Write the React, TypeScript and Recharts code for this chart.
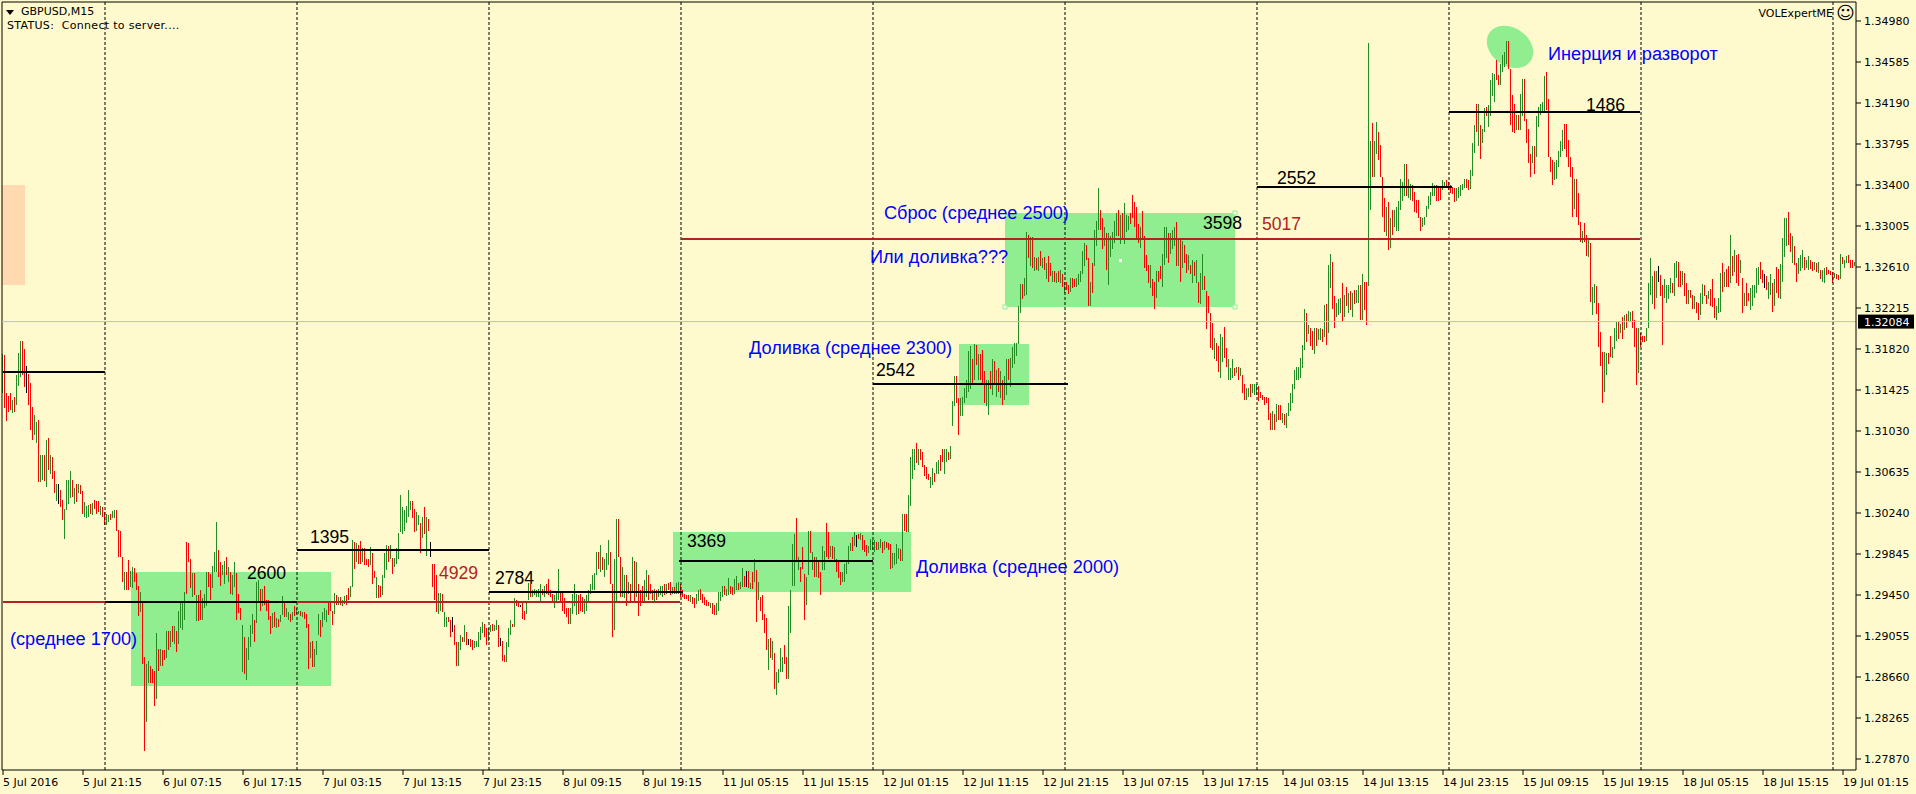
import React from "react";
import { ComposedChart, Bar, XAxis, YAxis, ReferenceLine, ReferenceArea, ReferenceDot } from "recharts";

type Row = [number, number, number]; // high, low (pips above 1.2700), trend

const barsJul05: Row[] = [[477,440,1],[476,425,-1],[440,413,-1],[437,421,-1],[440,423,-1],[433,420,1],[436,421,-1],[457,428,1],[478,446,1],[490,455,1],[490,457,-1],[482,445,-1],[466,440,0],[458,428,-1],[449,404,-1],[426,394,-1],[418,399,1],[412,391,1],[414,354,-1],[380,354,1],[380,356,1],[380,355,-1],[394,349,1],[396,365,-1],[380,362,1],[378,357,-1],[364,343,-1],[352,336,1],[352,333,0],[346,330,-1],[337,317,-1],[328,299,1],[356,327,1],[356,333,1],[364,338,1],[356,339,-1],[348,333,1],[352,335,-1],[352,343,1],[351,342,-1],[345,323,-1],[335,320,1],[331,319,1],[332,320,1],[333,323,-1],[334,322,1],[337,328,-1],[336,323,-1],[336,325,-1],[331,322,1],[330,320,-1]];
const barsJul06: Row[] = [[325,312,-1],[323,312,1],[322,315,1],[323,317,-1],[326,319,1],[327,319,1],[327,307,-1],[308,282,-1],[307,282,-1],[282,258,-1],[267,250,1],[267,250,-1],[279,250,-1],[268,253,1],[272,252,1],[271,258,-1],[266,250,-1],[254,225,-1],[248,229,1],[238,179,-1],[185,95,-1],[179,123,1],[181,160,1],[177,160,-1],[174,160,-1],[172,138,-1],[208,145,1],[193,172,-1],[193,177,1],[192,177,-1],[192,182,-1],[210,184,1],[210,192,-1],[210,195,1],[215,200,-1],[215,198,1],[210,190,-1],[230,198,1],[238,213,1],[238,211,1],[248,221,1],[296,246,-1],[295,277,-1],[280,252,-1],[266,243,1],[266,245,-1],[245,220,1],[245,220,-1],[250,221,-1],[242,221,1],[246,232,1],[267,234,1],[267,253,-1],[265,240,-1],[273,252,1],[286,267,1],[315,267,1],[288,262,-1],[277,254,-1],[274,264,1],[278,256,1],[282,264,-1],[272,258,1],[267,246,-1],[264,245,1],[277,253,1],[266,221,-1],[246,228,-1],[232,221,-1],[216,171,1],[205,169,-1],[194,163,1],[205,182,1],[216,195,1],[227,207,1],[221,200,-1],[258,218,1],[259,237,1],[251,230,-1],[251,234,1],[254,235,-1],[240,230,-1],[240,221,-1],[225,207,-1],[228,213,1],[229,214,-1],[223,213,1],[222,214,-1],[226,219,1],[244,226,1],[238,224,-1],[232,224,1],[229,221,1],[227,219,-1],[229,221,1],[234,225,-1]];
const barsJul07: Row[] = [[232,227,1],[230,227,1],[230,225,-1],[229,224,1],[229,222,-1],[227,213,-1],[217,174,-1],[200,184,1],[201,176,-1],[193,176,1],[201,187,1],[227,206,1],[221,205,-1],[229,214,1],[232,221,1],[231,219,1],[238,226,-1],[238,230,-1],[230,216,-1],[247,227,1],[245,235,-1],[243,235,1],[243,235,-1],[240,234,1],[244,236,1],[245,235,-1],[252,240,-1],[254,243,1],[298,253,1],[296,270,-1],[295,277,1],[293,275,-1],[297,275,-1],[290,277,1],[290,274,-1],[280,274,-1],[280,272,-1],[291,274,1],[285,256,-1],[268,261,-1],[262,242,1],[255,242,-1],[254,243,-1],[264,245,1],[285,261,1],[293,269,1],[292,277,-1],[293,280,1],[281,265,-1],[281,272,1],[290,275,1],[305,280,1],[341,306,1],[330,304,1],[327,307,1],[331,314,1],[346,320,1],[336,327,1],[336,319,-1],[328,306,-1],[325,307,1],[322,312,1],[314,285,-1],[320,300,1],[330,304,-1],[320,283,1],[318,307,-1],[296,282,0],[275,253,-1],[275,240,-1],[264,229,-1],[247,227,1],[247,230,1],[246,229,-1],[229,214,1],[224,214,1],[224,219,-1],[221,205,-1],[224,209,0],[216,197,-1],[200,177,-1],[200,177,1],[206,192,1],[205,200,-1],[216,200,1],[209,197,-1],[203,197,0],[203,195,-1],[202,192,-1],[201,194,1],[201,195,1],[209,195,1],[214,202,1],[219,208,1],[217,205,-1],[213,197,-1]];
const barsJul08: Row[] = [[213,201,1],[216,209,1],[217,210,-1],[216,210,1],[221,211,1],[216,195,-1],[204,196,0],[201,181,-1],[187,180,-1],[200,180,1],[213,195,1],[221,206,1],[217,214,-1],[242,214,1],[240,234,-1],[237,233,-1],[235,233,0],[238,222,-1],[230,221,-1],[238,227,1],[257,240,1],[256,243,-1],[250,243,1],[251,245,1],[250,243,1],[251,243,1],[256,237,1],[251,245,-1],[254,243,1],[256,246,-1],[260,245,-1],[250,243,-1],[246,239,-1],[245,232,1],[248,238,1],[270,240,1],[248,238,-1],[248,230,-1],[242,227,-1],[232,224,-1],[232,217,-1],[232,217,1],[246,227,1],[256,234,1],[246,226,1],[245,227,-1],[246,230,-1],[243,229,-1],[241,227,1],[245,230,1],[250,237,1],[256,246,1],[264,250,1],[266,250,1],[286,264,1],[286,270,-1],[293,267,1],[282,269,-1],[280,262,1],[285,269,1],[298,274,1],[286,256,-1],[256,205,-1],[280,211,1],[318,238,1],[318,282,-1],[282,243,-1],[272,243,1],[264,242,1],[264,234,-1],[258,246,1],[256,238,-1],[282,248,1],[278,238,-1],[277,243,1],[256,225,-1],[250,234,-1],[254,238,-1],[259,238,1],[269,243,1],[264,240,-1],[256,246,-1],[250,240,-1],[251,237,1],[250,240,-1],[251,243,1],[254,245,1],[254,243,1],[256,245,-1],[256,246,1],[257,250,-1],[258,245,-1],[253,246,1],[253,246,-1],[257,246,1],[258,246,1]];
const barsJul11: Row[] = [[256,243,-1],[250,243,-1],[246,241,-1],[245,241,-1],[245,239,-1],[245,238,1],[243,236,-1],[242,232,-1],[246,236,1],[250,239,1],[251,240,-1],[246,237,-1],[243,235,-1],[240,234,-1],[238,234,-1],[237,232,1],[237,227,-1],[235,226,-1],[237,226,1],[248,230,1],[248,239,1],[254,243,1],[254,245,-1],[251,244,1],[261,245,1],[254,246,-1],[253,245,-1],[260,246,1],[263,250,1],[257,250,-1],[258,251,1],[271,253,1],[263,253,-1],[268,253,0],[268,252,-1],[257,251,1],[267,251,-1],[280,258,1],[269,219,-1],[258,240,1],[243,230,-1],[245,221,-1],[227,208,-1],[223,192,-1],[203,173,1],[204,184,-1],[201,182,1],[189,154,-1],[171,149,1],[174,160,1],[194,171,1],[185,171,1],[197,179,-1],[185,164,-1],[234,164,1],[250,208,1],[294,254,1],[304,254,1],[319,277,-1],[282,269,1],[272,258,-1],[291,270,-1],[265,221,-1],[262,235,1],[307,264,1],[307,285,-1],[286,269,1],[282,262,-1],[282,262,1],[278,261,-1],[267,245,-1],[292,269,1],[287,269,1],[314,282,-1],[306,280,-1],[292,282,1],[292,280,-1],[291,278,1],[280,267,-1],[278,261,-1],[267,255,-1],[267,258,1],[275,258,1],[277,265,1],[292,275,1],[295,287,1],[301,287,-1],[306,292,1],[303,291,0],[304,299,-1],[305,298,1],[303,288,-1],[298,286,-1],[293,283,-1],[292,285,1],[299,288,1]];
const barsJul12: Row[] = [[298,288,1],[298,286,1],[296,288,-1],[296,288,1],[299,290,1],[296,285,-1],[297,288,1],[296,290,-1],[295,288,-1],[294,270,-1],[285,271,1],[285,274,1],[294,275,1],[290,280,1],[289,278,-1],[323,278,1],[323,307,-1],[323,306,-1],[341,306,1],[378,331,1],[386,357,1],[386,365,1],[391,372,-1],[386,370,1],[386,375,-1],[383,368,-1],[370,360,-1],[368,357,-1],[362,356,-1],[359,348,1],[367,351,1],[363,354,-1],[373,362,1],[375,362,1],[380,364,-1],[386,373,-1],[386,362,1],[386,373,1],[383,375,-1],[389,376,1],[432,408,1],[456,427,1],[456,430,-1],[435,399,-1],[435,417,1],[436,417,1],[444,430,1],[452,435,1],[480,441,1],[485,443,1],[472,448,-1],[487,452,1],[486,467,-1],[477,452,1],[477,452,-1],[481,448,-1],[461,430,-1],[452,427,1],[452,418,1],[461,443,-1],[472,438,1],[470,448,-1],[462,436,1],[464,441,-1],[461,435,1],[452,428,-1],[456,433,1],[472,438,1],[472,452,-1],[473,445,1],[484,464,1],[488,468,1],[488,475,1],[523,487,1],[545,517,1],[545,530,-1],[550,533,1],[595,534,1],[592,570,-1],[590,562,1],[590,560,-1],[571,557,1],[570,558,-1],[571,557,1],[576,562,-1],[570,560,1],[571,558,-1],[565,549,1],[572,547,-1],[565,552,-1],[557,547,1],[557,547,-1],[555,546,1],[557,547,-1],[558,546,1],[554,542,-1]];
const barsJul13: Row[] = [[547,536,1],[547,539,-1],[544,535,-1],[550,537,1],[550,541,-1],[549,542,-1],[550,542,1],[554,544,1],[557,547,1],[576,554,1],[584,562,1],[582,568,-1],[570,523,-1],[547,523,1],[565,536,-1],[597,562,1],[605,581,1],[637,597,1],[616,597,-1],[608,578,-1],[600,581,1],[594,558,-1],[594,544,1],[591,571,1],[595,578,1],[605,584,1],[613,591,1],[616,591,-1],[611,583,1],[613,587,-1],[623,583,1],[611,595,1],[610,597,1],[613,602,-1],[630,608,-1],[624,600,-1],[619,589,-1],[602,584,-1],[600,579,1],[615,587,-1],[591,560,-1],[573,557,-1],[563,546,-1],[563,541,1],[549,533,-1],[547,521,-1],[557,531,1],[557,547,-1],[562,549,-1],[574,542,1],[600,563,1],[600,570,1],[594,565,-1],[594,574,1],[597,578,1],[600,581,1],[604,562,-1],[589,562,1],[587,547,-1],[586,560,1],[582,565,-1],[574,555,-1],[573,558,1],[563,554,-1],[568,546,1],[566,552,-1],[568,546,1],[547,526,-1],[555,525,1],[574,539,1],[552,539,-1],[538,501,-1],[533,517,-1],[517,483,-1],[507,481,-1],[493,472,1],[488,470,-1],[485,460,-1],[496,454,1],[494,469,1],[503,473,-1],[483,465,-1],[472,452,1],[464,452,1],[472,454,1],[464,456,-1],[465,459,1],[465,452,-1],[464,456,1],[457,440,-1],[448,433,-1],[444,433,1],[444,436,1],[448,436,-1],[448,440,1],[448,438,1]];
const barsJul14: Row[] = [[448,438,1],[446,432,-1],[441,435,-1],[438,433,-1],[436,428,-1],[436,430,-1],[435,414,-1],[420,404,-1],[422,404,1],[419,404,-1],[429,412,1],[428,414,-1],[428,414,-1],[420,411,1],[419,409,-1],[420,406,1],[430,417,1],[440,422,1],[448,430,1],[462,443,1],[465,452,1],[465,452,1],[473,454,1],[486,464,1],[521,481,1],[517,489,-1],[505,496,1],[502,485,-1],[499,481,-1],[502,477,1],[502,485,-1],[501,491,1],[502,491,1],[501,489,-1],[524,494,1],[525,486,-1],[563,497,1],[574,541,1],[566,521,-1],[533,502,-1],[526,513,1],[530,515,1],[531,517,1],[546,508,-1],[534,513,1],[542,523,-1],[536,517,1],[538,520,-1],[536,513,1],[539,525,-1],[539,526,1],[544,526,1],[544,510,-1],[554,510,1],[547,520,-1],[547,505,-1],[777,543,1],[682,616,1],[700,648,-1],[682,648,1],[701,670,1],[691,664,-1],[679,648,-1],[648,609,-1],[627,595,-1],[619,591,1],[624,577,-1],[608,579,1],[616,592,-1],[616,600,1],[619,596,1],[625,596,1],[646,616,1],[643,625,1],[660,629,1],[660,629,-1],[646,627,1],[641,626,1],[640,625,-1],[633,614,-1],[626,613,-1],[626,608,-1],[609,596,-1],[608,600,1],[609,601,1],[620,609,1],[629,617,1],[633,621,1],[642,629,1],[640,629,1],[640,625,-1],[637,625,-1],[637,626,-1],[645,635,1],[643,637,1],[645,637,-1]];
const barsJul15: Row[] = [[643,635,-1],[640,632,-1],[638,631,-1],[637,624,-1],[637,625,1],[638,627,1],[640,629,1],[641,635,1],[646,637,1],[646,637,-1],[645,635,-1],[654,636,1],[680,649,1],[698,671,1],[718,691,-1],[718,678,1],[698,665,-1],[694,680,1],[714,691,1],[715,706,-1],[717,696,1],[741,706,1],[748,726,1],[747,720,1],[760,741,-1],[746,736,-1],[757,736,1],[765,749,1],[768,754,1],[779,757,1],[779,752,-1],[752,698,-1],[727,691,-1],[718,690,-1],[707,693,1],[707,693,-1],[728,693,1],[742,706,1],[742,702,-1],[704,680,-1],[694,661,-1],[670,648,-1],[678,661,1],[678,651,-1],[706,667,1],[715,696,1],[718,707,1],[720,709,1],[745,710,1],[749,712,-1],[723,667,-1],[667,653,-1],[664,640,-1],[662,645,1],[664,646,1],[673,657,1],[682,667,1],[693,673,1],[699,675,-1],[699,667,-1],[683,657,-1],[667,648,-1],[657,609,-1],[646,617,1],[646,609,-1],[632,601,-1],[604,585,-1],[596,584,1],[603,585,-1],[592,572,-1],[587,571,1],[584,527,-1],[542,515,1],[545,526,1],[543,516,-1],[526,484,-1],[498,466,-1],[479,430,-1],[479,441,1],[478,457,1],[478,468,-1],[495,474,-1],[484,473,1],[502,482,1],[508,490,1],[508,492,-1],[506,497,1],[513,492,-1],[515,500,1],[516,502,-1],[519,508,1],[518,508,1],[519,502,-1],[510,484,-1],[502,447,-1],[502,459,1]];
const barsJul18: Row[] = [[497,484,-1],[495,489,-1],[495,489,-1],[502,490,1],[546,502,1],[570,534,1],[552,525,1],[557,521,-1],[557,531,1],[562,547,0],[553,533,-1],[544,486,-1],[549,531,1],[544,526,1],[544,530,1],[550,536,1],[546,536,-1],[565,533,1],[567,550,1],[566,542,-1],[557,542,-1],[557,544,1],[555,533,-1],[546,525,-1],[539,525,1],[539,531,-1],[534,521,-1],[533,521,1],[527,517,-1],[526,510,-1],[536,515,1],[545,525,1],[544,533,-1],[534,525,-1],[538,530,1],[540,523,-1],[549,522,-1],[531,512,-1],[523,510,1],[531,517,1],[555,518,1],[565,537,-1],[556,542,1],[559,542,-1],[562,542,-1],[592,546,1],[572,552,-1],[577,556,1],[573,546,-1],[574,543,-1],[568,555,1],[550,517,-1],[536,523,1],[546,523,-1],[536,528,-1],[541,520,1],[544,523,1],[544,531,1],[560,536,1],[561,544,1],[566,549,-1],[558,546,-1],[554,541,0],[552,539,-1],[547,530,1],[554,534,1],[546,518,-1],[549,523,1],[561,536,-1],[559,531,-1],[564,530,1],[589,547,1],[608,571,1],[608,581,1],[614,582,-1],[594,575,-1],[591,565,1],[581,563,-1],[565,547,-1],[570,554,1],[573,557,1],[577,560,1],[571,558,-1],[568,560,1],[572,558,1],[568,559,-1],[566,557,-1],[566,558,1],[565,556,-1],[566,555,1],[558,549,-1],[558,547,1],[560,546,1],[561,553,-1],[558,554,-1],[557,553,-1]];
const barsJul19: Row[] = [[556,546,-1],[555,550,1],[554,549,-1],[553,548,-1],[574,549,1],[571,564,-1],[568,560,1],[572,565,1],[573,565,-1],[568,560,-1],[568,560,-1],[566,562,1]];

const sessions: [number, Row[]][] = [[0, barsJul05],[51, barsJul06],[147, barsJul07],[243, barsJul08],[339, barsJul11],[435, barsJul12],[531, barsJul13],[627, barsJul14],[723, barsJul15],[819, barsJul18],[915, barsJul19]];
const toPrice = (pips: number) => 1.27 + pips / 10000;
const data = sessions.flatMap(([start, rows]) => rows.map((r, j) => ({ i: start + j, span: [toPrice(r[1]), toPrice(r[0])], trend: r[2] })));

const timeLabels = ["5 Jul 2016","5 Jul 21:15","6 Jul 07:15","6 Jul 17:15","7 Jul 03:15","7 Jul 13:15","7 Jul 23:15","8 Jul 09:15","8 Jul 19:15","11 Jul 05:15","11 Jul 15:15","12 Jul 01:15","12 Jul 11:15","12 Jul 21:15","13 Jul 07:15","13 Jul 17:15","14 Jul 03:15","14 Jul 13:15","14 Jul 23:15","15 Jul 09:15","15 Jul 19:15","18 Jul 05:15","18 Jul 15:15","19 Jul 01:15"];
const timeTicks = timeLabels.map((_, k) => k * 40);
const priceTicks = [1.3498,1.34585,1.3419,1.33795,1.334,1.33005,1.3261,1.32215,1.3182,1.31425,1.3103,1.30635,1.3024,1.29845,1.2945,1.29055,1.2866,1.28265,1.2787];
const daySeparators = [51,147,243,339,435,531,627,723,819,915];
const lastPrice = 1.32084;

const zones = [
  { x1: 64, x2: 164, y1: 1.28573, y2: 1.29672 },
  { x1: 335, x2: 454, y1: 1.29479, y2: 1.30057 },
  { x1: 478, x2: 513, y1: 1.31281, y2: 1.31868 },
  { x1: 501, x2: 616, y1: 1.32225, y2: 1.3313 },
];
const brownLevels = [
  { from: 0, to: 338.5, price: 1.29383 },
  { from: 339, to: 818.5, price: 1.3288 },
];
const blackLevels = [
  { from: 0, to: 51, price: 1.31598 },
  { from: 51, to: 147, price: 1.29383 },
  { from: 147, to: 243, price: 1.29884 },
  { from: 243, to: 340, price: 1.29479 },
  { from: 338, to: 435, price: 1.29778 },
  { from: 435, to: 532.5, price: 1.31483 },
  { from: 627, to: 724.5, price: 1.33381 },
  { from: 723, to: 818.5, price: 1.34103 },
];
const BLUE = "#0000FF", BROWN = "#B22222", BLACK = "#000";
const notes = [
  { i: 3.5, p: 202.6, text: "(среднее 1700)", color: BLUE },
  { i: 122, p: 266.2, text: "2600", color: BLACK },
  { i: 153.5, p: 300.9, text: "1395", color: BLACK },
  { i: 218, p: 266.2, text: "4929", color: BROWN },
  { i: 246, p: 261.3, text: "2784", color: BLACK },
  { i: 342, p: 297, text: "3369", color: BLACK },
  { i: 456.5, p: 272, text: "Доливка (среднее 2000)", color: BLUE },
  { i: 436.5, p: 461.7, text: "2542", color: BLACK },
  { i: 373, p: 483, text: "Доливка (среднее 2300)", color: BLUE },
  { i: 433.5, p: 570.6, text: "Или доливка???", color: BLUE },
  { i: 440.5, p: 613, text: "Сброс (среднее 2500)", color: BLUE },
  { i: 600, p: 603.4, text: "3598", color: BLACK },
  { i: 629.5, p: 602.4, text: "5017", color: BROWN },
  { i: 637, p: 646.7, text: "2552", color: BLACK },
  { i: 791.5, p: 717, text: "1486", color: BLACK },
  { i: 772.5, p: 766, text: "Инерция и разворот", color: BLUE },
];
const handles = [[501, 1.32225], [616, 1.3313], [616, 1.32225]];

const UI = "'DejaVu Sans', sans-serif";
const ARIAL = "'Liberation Sans', Arial, sans-serif";
const BG = "#FFFACD";

const Stem = (p: any) => {
  const c = p.payload.trend > 0 ? "#228B22" : p.payload.trend < 0 ? "#FF0000" : "#000";
  return <rect x={Math.round(p.x + p.width / 2 - 0.5)} y={Math.min(p.y, p.y + p.height)} width={1} height={Math.max(1, Math.abs(p.height))} fill={c} shapeRendering="crispEdges" />;
};
const TimeTick = (p: any) => {
  const label = timeLabels[Math.round(p.payload.value / 40)];
  return (
    <g>
      <line x1={p.x} x2={p.x} y1={p.y - 8} y2={p.y - 3} stroke="#000" />
      <text x={p.x} y={p.y + 8} fontFamily={UI} fontSize={11} fill="#000">{label}</text>
    </g>
  );
};
const PriceTick = (p: any) => (
  <g>
    <line x1={p.x - 8} x2={p.x - 3} y1={p.y} y2={p.y} stroke="#000" />
    <text x={p.x} y={p.y + 4} fontFamily={UI} fontSize={11} fill="#000">{p.payload.value.toFixed(5)}</text>
  </g>
);
const PriceTag = (p: any) => {
  const y = p.viewBox.y;
  const x = p.viewBox.x + p.viewBox.width;
  return (
    <g>
      <rect x={x + 2} y={y - 7} width={56} height={14} fill="#000" />
      <text x={x + 8} y={y + 4} fontFamily={UI} fontSize={11} fill="#fff">{lastPrice.toFixed(5)}</text>
    </g>
  );
};
const TiltedEllipse = (p: any) => {
  const cx = p.x + p.width / 2, cy = p.y + p.height / 2;
  return <ellipse cx={cx} cy={cy} rx={25} ry={19} fill="#90EE90" transform={`rotate(35 ${cx} ${cy})`} />;
};

export default function App() {
  return (
    <div style={{ position: "absolute", left: 0, top: 0, width: 1916, height: 794, background: BG, overflow: "hidden" }}>
      <ComposedChart width={1916} height={794} data={data} margin={{ top: 2, right: 0, bottom: 0, left: 2 }} style={{ position: "absolute", left: 0, top: 0 }}>
        <XAxis dataKey="i" type="number" scale="linear" domain={[-0.5, 926.5]} ticks={timeTicks} interval={0} height={24} allowDataOverflow stroke="#000" tickLine={false} tick={<TimeTick />} />
        <YAxis orientation="right" type="number" scale="linear" domain={[1.27764, 1.35163]} ticks={priceTicks} interval={0} width={60} allowDataOverflow stroke="#000" tickLine={false} tick={<PriceTick />} />
        <ReferenceLine x={-0.5} stroke="#000" />
        <ReferenceLine y={1.35163} stroke="#000" />
        <ReferenceArea x1={-0.5} x2={11} y1={1.32437} y2={1.334} fill="#FFDAB0" fillOpacity={1} stroke="none" />
        {zones.map((z, k) => (
          <ReferenceArea key={k} {...z} fill="#90EE90" fillOpacity={1} stroke="none" />
        ))}
        <ReferenceArea x1={742} x2={765} y1={toPrice(753)} y2={toPrice(793)} shape={<TiltedEllipse />} />
        {daySeparators.map((d) => (
          <ReferenceLine key={d} x={d} stroke="#000" strokeDasharray="3 2" />
        ))}
        <ReferenceLine y={lastPrice} stroke="#C0C0C0" label={<PriceTag />} />
        <Bar dataKey="span" barSize={1} isAnimationActive={false} shape={<Stem />} />
        {brownLevels.map((l, k) => (
          <ReferenceLine key={k} segment={[{ x: l.from, y: l.price }, { x: l.to, y: l.price }]} stroke={BROWN} strokeWidth={2} />
        ))}
        {blackLevels.map((l, k) => (
          <ReferenceLine key={k} segment={[{ x: l.from, y: l.price }, { x: l.to, y: l.price }]} stroke="#000" strokeWidth={2} />
        ))}
        {handles.map(([x, y], k) => (
          <ReferenceDot key={k} x={x} y={y} r={1} shape={(p: any) => <rect x={p.cx - 2} y={p.cy - 2} width={4} height={4} fill="#fff" stroke="#90EE90" />} />
        ))}
        <ReferenceDot x={558.5} y={toPrice(567.7)} r={1} shape={(p: any) => <rect x={p.cx - 1} y={p.cy - 1} width={3} height={3} fill="#fff" />} />
        {notes.map((n, k) => (
          <ReferenceDot key={k} x={n.i} y={toPrice(n.p)} r={1} shape={(p: any) => <text x={p.cx} y={p.cy + 6} fontFamily={ARIAL} fontSize={n.color === BLUE ? 18.15 : 17.6} fill={n.color}>{n.text}</text>} />
        ))}
      </ComposedChart>
      <div style={{ position: "absolute", left: 6, top: 10, width: 0, height: 0, borderLeft: "4.5px solid transparent", borderRight: "4.5px solid transparent", borderTop: "5px solid #000" }} />
      <div style={{ position: "absolute", left: 21, top: 5, font: `11px ${UI}`, color: "#000", whiteSpace: "pre" }}>GBPUSD,M15</div>
      <div style={{ position: "absolute", left: 7, top: 19, font: `11px ${UI}`, letterSpacing: 0.31, color: "#000", whiteSpace: "pre" }}>STATUS:  Connect to server....</div>
      <div style={{ position: "absolute", right: 83, top: 7, font: `11px ${UI}`, color: "#000", whiteSpace: "pre" }}>VOLExpertME</div>
      <div style={{ position: "absolute", left: 1836, top: 2, font: `18px ${UI}`, color: "#000" }}>☺</div>
    </div>
  );
}
